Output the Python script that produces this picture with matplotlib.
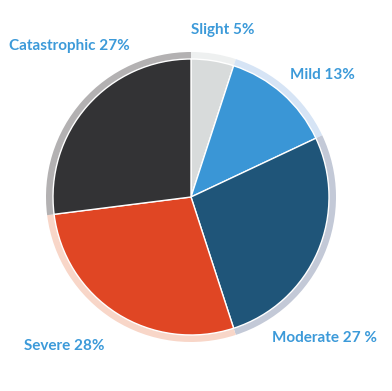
import matplotlib
matplotlib.use("Agg")
import matplotlib.pyplot as plt

categories = ["Slight", "Mild", "Moderate", "Severe", "Catastrophic"]
values = [5, 13, 27, 28, 27]
labels = ["Slight 5%", "Mild 13%", "Moderate 27 %", "Severe 28%", "Catastrophic 27%"]

colors = ["#d8dbdb", "#3a96d6", "#1f5579", "#e04624", "#333335"]
ring_colors = ["#eef0f0", "#d6e4f5", "#c3c9d7", "#f8d6c8", "#b3b1b2"]

W, H = 392, 391
fig = plt.figure(figsize=(W / 100, H / 100), dpi=100)
ax = fig.add_axes([0, 0, 1, 1])

cx, cy = 191, H - 197
ax.pie(values, colors=ring_colors, startangle=90, counterclock=False,
       radius=145, center=(cx, cy),
       wedgeprops=dict(linewidth=0))
ax.pie(values, colors=colors, startangle=90, counterclock=False,
       radius=138, center=(cx, cy),
       wedgeprops=dict(edgecolor="white", linewidth=1.0))

label_pos = [(191, 30), (290, 75), (272, 338), (24, 346), (9, 46)]
for lab, (x, y) in zip(labels, label_pos):
    ax.text(x, H - y, lab, ha="left", va="center", fontsize=11,
            fontweight="bold", color="#3c9ad9", family="Lato")

ax.set_xlim(0, W)
ax.set_ylim(0, H)
ax.set_aspect("equal")
ax.axis("off")
fig.savefig("out.png", dpi=100, facecolor="white")
